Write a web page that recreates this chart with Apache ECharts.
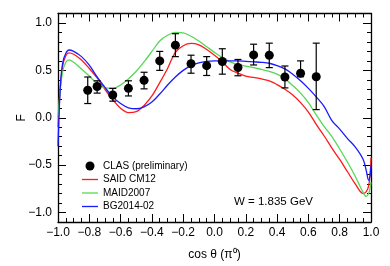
<!DOCTYPE html>
<html>
<head>
<meta charset="utf-8">
<script src="https://cdn.jsdelivr.net/npm/echarts@6/dist/echarts.min.js"></script>
<style>html,body{margin:0;padding:0;background:#fff;}#c{width:390px;height:266px;}</style>
</head>
<body>
<div id="c"></div>
<script>
// ---- data ----
const clasCos  = [-0.81,-0.75,-0.65,-0.55,-0.45,-0.35,-0.25,-0.15,-0.05,0.05,0.15,0.25,0.35,0.45,0.55,0.65];
const clasF    = [0.29,0.33,0.24,0.31,0.395,0.60,0.766,0.57,0.55,0.594,0.53,0.663,0.66,0.43,0.47,0.433];
const clasLow  = [0.15,0.26,0.175,0.23,0.305,0.50,0.645,0.47,0.446,0.46,0.443,0.557,0.529,0.315,0.433,0.086];
const clasHigh = [0.43,0.39,0.31,0.39,0.48,0.70,0.887,0.66,0.645,0.728,0.615,0.776,0.787,0.546,0.60,0.787];

const cosGrid = [-1,-0.985,-0.97,-0.95,-0.93,-0.9,-0.85,-0.8,-0.75,-0.7,-0.65,-0.6,-0.55,-0.5,-0.45,-0.4,-0.35,-0.3,-0.25,-0.2,-0.15,-0.1,-0.05,0,0.05,0.1,0.15,0.2,0.25,0.3,0.35,0.4,0.45,0.5,0.55,0.6,0.65,0.7,0.75,0.8,0.85,0.9,0.95,0.97,0.985,0.995,1];
const saidF = [-0.1,0.33,0.55,0.655,0.685,0.67,0.61,0.52,0.42,0.30,0.19,0.10,0.055,0.065,0.13,0.23,0.37,0.52,0.69,0.76,0.785,0.77,0.72,0.66,0.59,0.51,0.47,0.44,0.425,0.41,0.39,0.35,0.30,0.24,0.16,0.06,-0.07,-0.19,-0.32,-0.44,-0.57,-0.70,-0.80,-0.78,-0.72,-0.58,-0.42];
const maidF = [0,0.30,0.49,0.585,0.61,0.585,0.515,0.44,0.36,0.315,0.31,0.345,0.41,0.49,0.59,0.70,0.81,0.87,0.90,0.895,0.86,0.81,0.75,0.69,0.635,0.59,0.56,0.545,0.53,0.51,0.49,0.46,0.41,0.34,0.26,0.16,0.03,-0.09,-0.20,-0.33,-0.47,-0.62,-0.79,-0.83,-0.80,-0.73,-0.68];
const bgF   = [-0.3,0.33,0.58,0.68,0.715,0.70,0.645,0.555,0.43,0.32,0.22,0.15,0.105,0.095,0.115,0.165,0.25,0.345,0.43,0.50,0.55,0.58,0.595,0.60,0.60,0.60,0.60,0.595,0.59,0.585,0.575,0.55,0.515,0.46,0.39,0.31,0.22,0.12,-0.03,-0.12,-0.22,-0.31,-0.44,-0.56,-0.66,-0.60,-0.50];

const yTicks = [-1.0,-0.5,0.0,0.5,1.0];
const seriesNames = ['CLAS (preliminary)','SAID CM12','MAID2007','BG2014-02'];
const energyLabel = 'W = 1.835 GeV';

// ---- build ----
const yMinor = [];
for (let i = -11; i <= 11; i++) yMinor.push(i / 10);
const FONT = '"Liberation Sans", Arial, sans-serif';
const fmt = v => { const s = Math.abs(v).toFixed(1); return (v < -1e-9 ? '\u2212' : '') + s; };
const zip = (xs, ys) => xs.map((x, i) => [x, ys[i]]);
const LINE_ICON = 'path://M0,0 L16,0 L16,1.3 L0,1.3 Z';

const axisLineStyle = { show: true, onZero: false, lineStyle: { color: '#000', width: 1.3 } };
const noLine = { show: false, onZero: false };
const tickMajor = { show: true, inside: true, length: 8, lineStyle: { color: '#000', width: 1 } };
const tickMinor = { show: true, inside: true, length: 4, lineStyle: { color: '#000', width: 1 } };

const xBase = { type: 'value', min: -1, max: 1, interval: 0.2, splitLine: { show: false }, minorSplitLine: { show: false } };
const yBase = { type: 'value', min: -1.1, max: 1.1, splitLine: { show: false } };

const chart = echarts.init(document.getElementById('c'), null, { renderer: 'canvas' });
chart.setOption({
  animation: false,
  backgroundColor: '#fff',
  textStyle: { fontFamily: FONT },
  grid: { left: 58, right: 19, top: 13.5, bottom: 40, containLabel: false },
  xAxis: [
    Object.assign({}, xBase, {
      position: 'bottom',
      axisLine: axisLineStyle,
      axisTick: tickMajor,
      minorTick: { show: true, splitNumber: 4, length: 4, lineStyle: { color: '#000', width: 1 } },
      axisLabel: { show: true, color: '#000', fontSize: 12, margin: 5, fontFamily: FONT, formatter: fmt },
      name: 'cos \u03b8 (\u03c0\u2070)', nameLocation: 'middle', nameGap: 27, nameMoveOverlap: false,
      nameTextStyle: { color: '#000', fontSize: 12, fontFamily: FONT, verticalAlign: 'top' }
    }),
    Object.assign({}, xBase, {
      position: 'top',
      axisLine: axisLineStyle,
      axisTick: tickMajor,
      minorTick: { show: true, splitNumber: 4, length: 4, lineStyle: { color: '#000', width: 1 } },
      axisLabel: { show: false }
    })
  ],
  yAxis: [
    Object.assign({}, yBase, {
      position: 'left',
      axisLine: axisLineStyle,
      axisTick: Object.assign({}, tickMajor, { customValues: yTicks }),
      axisLabel: { show: true, customValues: yTicks, color: '#000', fontSize: 12, margin: 6, fontFamily: FONT, formatter: fmt },
      name: 'F', nameLocation: 'middle', nameGap: 30, nameMoveOverlap: false,
      nameTextStyle: { color: '#000', fontSize: 12, fontFamily: FONT }
    }),
    Object.assign({}, yBase, {
      position: 'left',
      axisLine: noLine,
      axisTick: Object.assign({}, tickMinor, { customValues: yMinor }),
      axisLabel: { show: false }
    }),
    Object.assign({}, yBase, {
      position: 'right',
      axisLine: axisLineStyle,
      axisTick: Object.assign({}, tickMajor, { customValues: yTicks }),
      axisLabel: { show: false }
    }),
    Object.assign({}, yBase, {
      position: 'right',
      axisLine: noLine,
      axisTick: Object.assign({}, tickMinor, { customValues: yMinor }),
      axisLabel: { show: false }
    })
  ],
  legend: {
    data: [
      { name: seriesNames[0], icon: 'circle', itemStyle: { color: '#000', opacity: 1 } },
      { name: seriesNames[1], icon: LINE_ICON, itemStyle: { color: '#ff1a1a' } },
      { name: seriesNames[2], icon: LINE_ICON, itemStyle: { color: '#55d855' } },
      { name: seriesNames[3], icon: LINE_ICON, itemStyle: { color: '#1a1aff' } }
    ],
    orient: 'vertical',
    left: 82, top: 161, padding: 0,
    itemWidth: 16, itemHeight: 9, itemGap: 3.5,
    textStyle: { color: '#000', fontSize: 10, fontFamily: FONT },
    selectedMode: false
  },
  graphic: [{
    type: 'text', left: 234, top: 196,
    style: { text: energyLabel, fontSize: 11.5, fontFamily: FONT, fill: '#000' }
  }],
  series: [
    {
      name: seriesNames[1], type: 'line', smooth: 0.35, symbol: 'none',
      lineStyle: { color: '#ff1a1a', width: 1.3 }, itemStyle: { color: '#ff1a1a' },
      data: zip(cosGrid, saidF), z: 2
    },
    {
      name: seriesNames[2], type: 'line', smooth: 0.35, symbol: 'none',
      lineStyle: { color: '#55d855', width: 1.3 }, itemStyle: { color: '#55d855' },
      data: zip(cosGrid, maidF), z: 2
    },
    {
      name: seriesNames[3], type: 'line', smooth: 0.35, symbol: 'none',
      lineStyle: { color: '#1a1aff', width: 1.3 }, itemStyle: { color: '#1a1aff' },
      data: zip(cosGrid, bgF), z: 2
    },
    {
      name: 'errors', type: 'custom', z: 3,
      data: clasCos.map((x, i) => [x, clasLow[i], clasHigh[i]]),
      renderItem: function (params, api) {
        const x = api.value(0);
        const lo = api.coord([x, api.value(1)]);
        const hi = api.coord([x, api.value(2)]);
        const w = 3.5;
        const st = { stroke: '#000', lineWidth: 1.2 };
        return { type: 'group', children: [
          { type: 'line', shape: { x1: lo[0], y1: lo[1], x2: hi[0], y2: hi[1] }, style: st },
          { type: 'line', shape: { x1: lo[0] - w, y1: lo[1], x2: lo[0] + w, y2: lo[1] }, style: st },
          { type: 'line', shape: { x1: hi[0] - w, y1: hi[1], x2: hi[0] + w, y2: hi[1] }, style: st }
        ]};
      }
    },
    {
      name: seriesNames[0], type: 'scatter', symbol: 'circle', symbolSize: 9, z: 4,
      itemStyle: { color: '#000', opacity: 1 },
      data: zip(clasCos, clasF)
    }
  ]
});
</script>
</body>
</html>
